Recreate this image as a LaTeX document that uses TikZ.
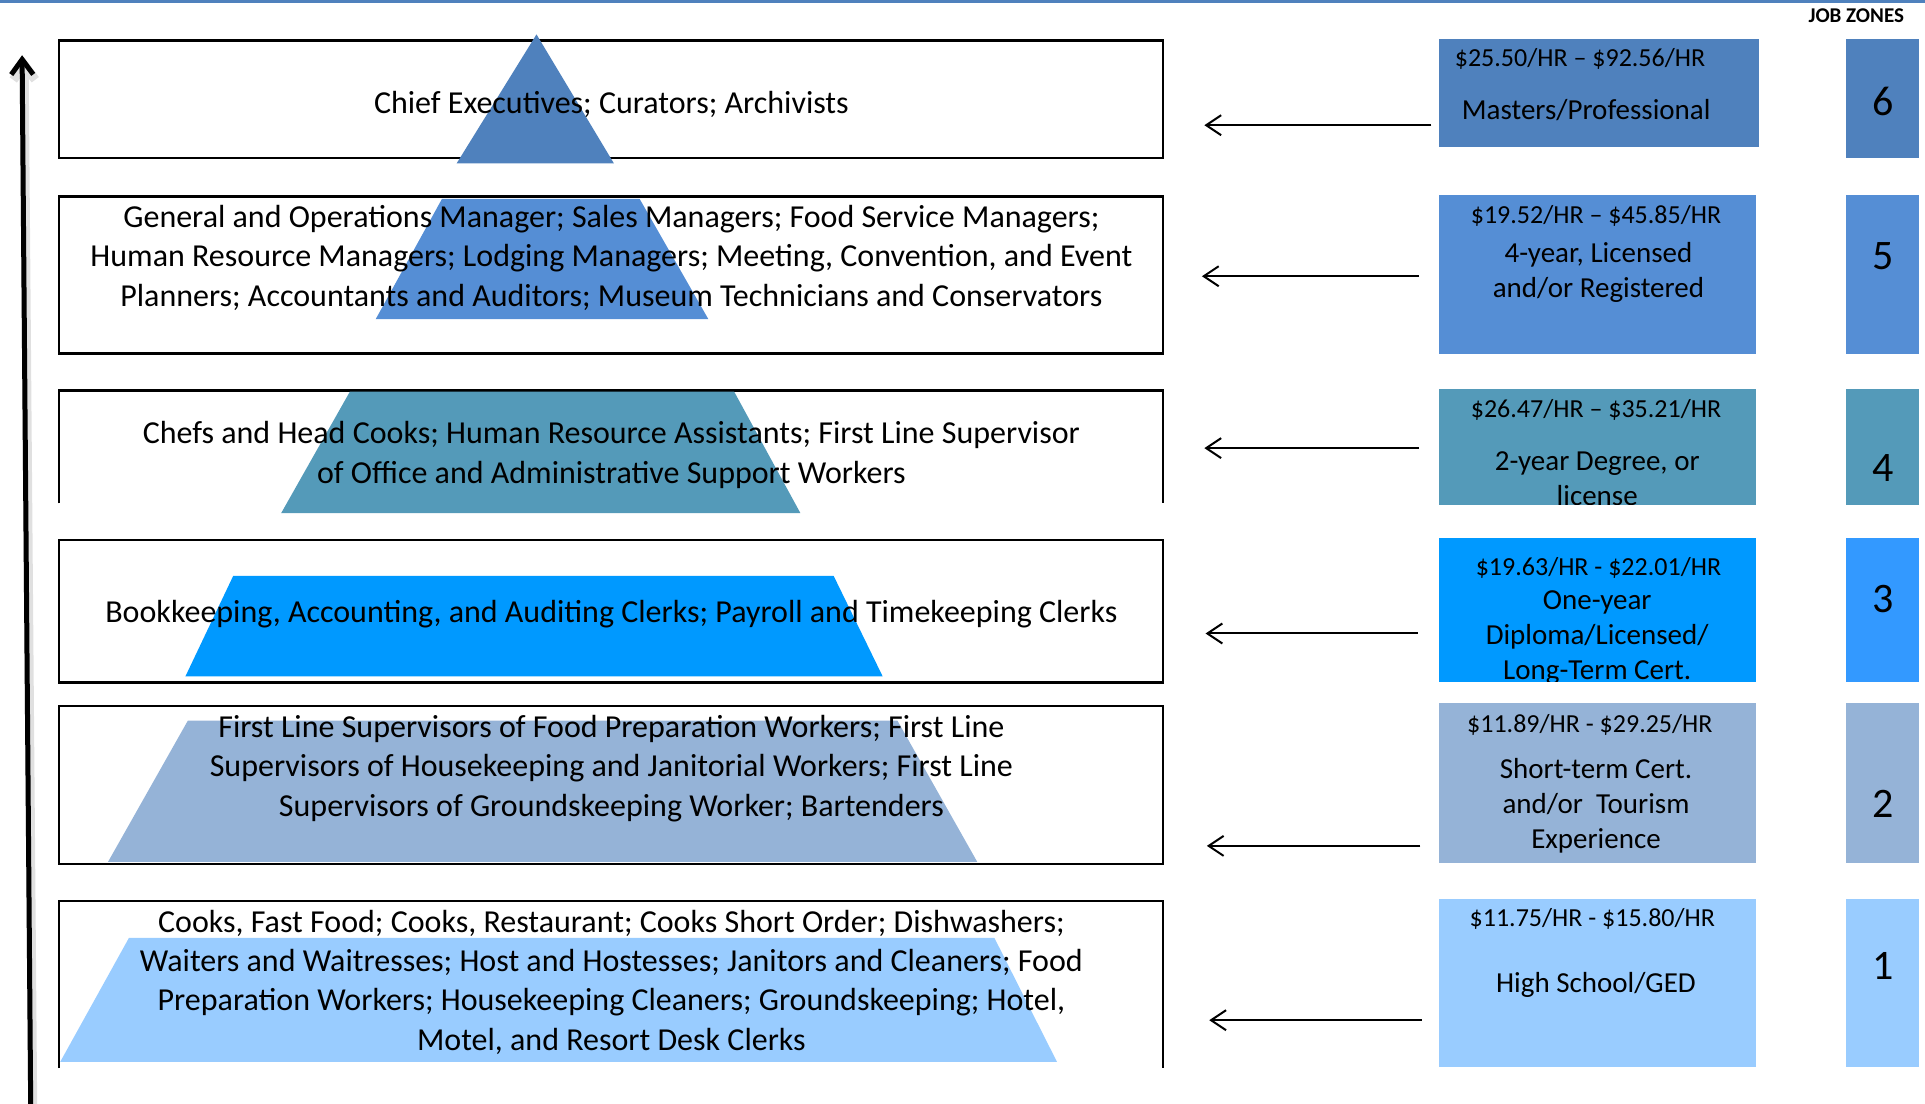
\documentclass[tikz,border=0pt]{standalone}
\usepackage{fontspec}
\setmainfont{Carlito}
\usetikzlibrary{arrows.meta}

\definecolor{zonesix}{RGB}{79,129,189}
\definecolor{zonefive}{RGB}{85,142,213}
\definecolor{zonefour}{RGB}{84,154,185}
\definecolor{zonethree}{RGB}{0,153,255}
\definecolor{zonethreelight}{RGB}{51,153,255}
\definecolor{zonetwo}{RGB}{149,179,215}
\definecolor{zoneone}{RGB}{153,204,255}

\tikzset{
	boxline/.style={line width=2.2pt},
	jobtext/.style={align=center, inner sep=0pt, font=\fontsize{32}{39.4}\selectfont},
	paytext/.style={align=center, inner sep=0pt, font=\fontsize{26}{32}\selectfont},
	degtext/.style={align=center, inner sep=0pt, font=\fontsize{29}{35}\selectfont},
	zonenum/.style={inner sep=0pt, font=\fontsize{42}{50}\selectfont},
	levelarrow/.style={line width=2pt, -{Straight Barb[length=15pt, width=20pt]}},
	riserarrow/.style={line width=5pt, -{Straight Barb[length=15pt, width=22pt]},
		preaction={draw=black!12, line width=9pt, transform canvas={xshift=2pt, yshift=-2pt}}}
}

\begin{document}
\begin{tikzpicture}[x=1.2277pt, y=-1.2277pt]
	\useasboundingbox (0,0) rectangle (1568,899.2);
	%top rule
	\fill[zonesix] (0,0) rectangle (1568,2.2);
	%rising arrow
	\coordinate (low) at (25,899.2);
	\coordinate (high) at (18,45);
	\draw[riserarrow] (low) -- (high);
	%level boxes
	\draw[boxline] (48,33) rectangle (947,129);
	\draw[boxline] (48,160) rectangle (947,288);
	\draw[boxline] (48,410) |- (947,318) -- (947,410);
	\draw[boxline] (48,440) rectangle (947,556);
	\draw[boxline] (48,575) rectangle (947,704);
	\draw[boxline] (48,870) |- (947,734) -- (947,870);
	%pyramid
	\fill[zonesix] (437,28) -- (500,133) -- (372,133) -- cycle;
	\fill[zonefive] (360,162) -- (521,162) -- (577,260) -- (306,260) -- cycle;
	\fill[zonefour] (285,319) -- (598,319) -- (652,418) -- (229,418) -- cycle;
	\fill[zonethree] (190,469) -- (679,469) -- (719,551) -- (151,551) -- cycle;
	\fill[zonetwo] (153,587) -- (731,587) -- (796,702) -- (88,702) -- cycle;
	\fill[zoneone] (105,764) -- (810,764) -- (861,865) -- (49,865) -- cycle;
	%job titles
	\node[jobtext] (job6) at (498,85) {Chief Executives; Curators; Archivists};
	\node[jobtext] (job5) at (498,210) {General and Operations Manager; Sales Managers; Food Service Managers;\\
		Human Resource Managers; Lodging Managers; Meeting, Convention, and Event\\
		Planners; Accountants and Auditors; Museum Technicians and Conservators};
	\node[jobtext] (job4) at (498,370.5) {Chefs and Head Cooks; Human Resource Assistants; First Line Supervisor\\
		of Office and Administrative Support Workers};
	\node[jobtext] (job3) at (498,500) {Bookkeeping, Accounting, and Auditing Clerks; Payroll and Timekeeping Clerks};
	\node[jobtext] (job2) at (498,626) {First Line Supervisors of Food Preparation Workers; First Line\\
		Supervisors of Housekeeping and Janitorial Workers; First Line\\
		Supervisors of Groundskeeping Worker; Bartenders};
	\node[jobtext] (job1) at (498,800) {Cooks, Fast Food; Cooks, Restaurant; Cooks Short Order; Dishwashers;\\
		Waiters and Waitresses; Host and Hostesses; Janitors and Cleaners; Food\\
		Preparation Workers; Housekeeping Cleaners; Groundskeeping; Hotel,\\
		Motel, and Resort Desk Clerks};
	%pay and education
	\fill[zonesix] (1172,32) rectangle (1433,120);
	\fill[zonefive] (1172,159) rectangle (1430,288);
	\fill[zonefour] (1172,317) rectangle (1430,411);
	\fill[zonethree] (1172,438.5) rectangle (1430,555.5);
	\fill[zonetwo] (1172,573) rectangle (1430,703);
	\fill[zoneone] (1172,732) rectangle (1430,869);
	\node[paytext] (pay6) at (1287,48) {\$25.50/HR – \$92.56/HR};
	\node[degtext] (edu6) at (1292,90) {Masters/Professional};
	\node[paytext] (pay5) at (1300,175.5) {\$19.52/HR – \$45.85/HR};
	\node[degtext] (edu5) at (1302,222) {4-year, Licensed\\and/or Registered};
	\begin{scope}
		\clip (1172,317) rectangle (1430,411);
		\node[paytext] (pay4) at (1300,333.5) {\$26.47/HR – \$35.21/HR};
		\node[degtext] (edu4) at (1301,390) {2-year Degree, or\\license};
	\end{scope}
	\begin{scope}
		\clip (1172,438.5) rectangle (1430,555.5);
		\node[paytext] (pay3) at (1302,462.5) {\$19.63/HR - \$22.01/HR};
		\node[degtext] (edu3) at (1301,519) {One-year\\Diploma/Licensed/\\Long-Term Cert.};
	\end{scope}
	\node[paytext] (pay2) at (1295,590.5) {\$11.89/HR - \$29.25/HR};
	\node[degtext] (edu2) at (1300,656) {Short-term Cert.\\and/or~~Tourism\\Experience};
	\node[paytext] (pay1) at (1297,748.5) {\$11.75/HR - \$15.80/HR};
	\node[degtext] (edu1) at (1300,802.5) {High School/GED};
	%job zones
	\node[inner sep=0pt, font=\bfseries\fontsize{21}{25}\selectfont] (zonetitle) at (1512,13) {JOB ZONES};
	\foreach \z/\ya/\yb/\dy/\col in {6/32/129/83/zonesix, 5/159/288/209/zonefive, 4/317/411/381/zonefour,
			3/438.5/555.5/488/zonethreelight, 2/573/703/655/zonetwo, 1/732/869/787/zoneone}
	{
		\fill[\col] (1504,\ya) rectangle (1563,\yb);
		\node[zonenum] (zone\z) at (1533.5,\dy) {\z};
	}
	%arrows
	\foreach \z/\y/\xa/\xb in {6/102/1166/981, 5/225/1156/979, 4/365/1156/981,
			3/516/1155/982, 2/689/1157/983, 1/831/1158/985}
	{
		\coordinate (paywest\z) at (\xa,\y);
		\coordinate (jobeast\z) at (\xb,\y);
		\draw[levelarrow] (paywest\z) -- (jobeast\z);
	}
\end{tikzpicture}
\end{document}
